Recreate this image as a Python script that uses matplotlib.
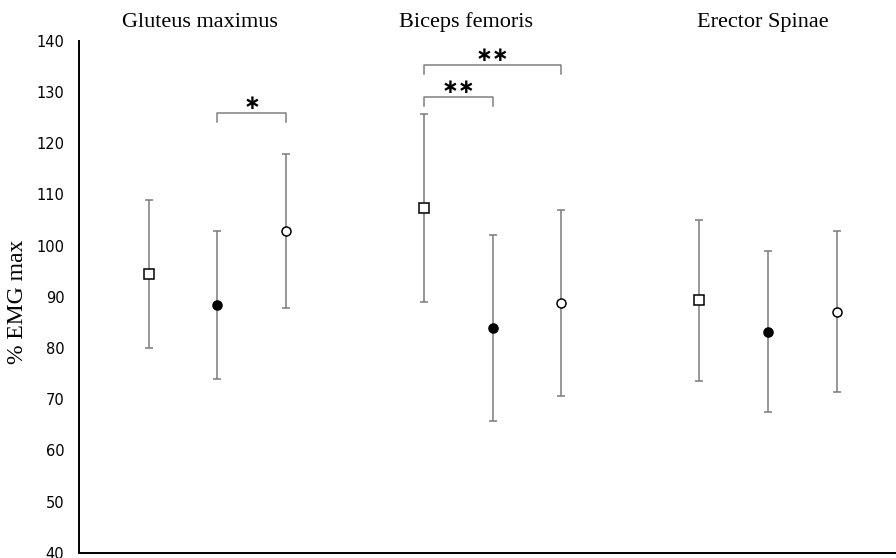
"""Mean %EMG max with SD error bars for three muscles and three conditions."""

import matplotlib.pyplot as plt
import numpy as np

# Data
muscles = ['Gluteus maximus', 'Biceps femoris', 'Erector Spinae']
cond_a = [94.4, 107.3, 89.3]   # open squares
cond_a_sd = [14.4, 18.3, 15.7]
cond_b = [88.4, 83.9, 83.2]    # filled circles
cond_b_sd = [14.4, 18.2, 15.8]
cond_c = [102.8, 88.8, 87.1]   # open circles
cond_c_sd = [15.0, 18.1, 15.7]

# Significance brackets: (muscle index, from cond, to cond, bracket height, label)
sig = [(0, 1, 2, 125.9, '*'),
       (1, 0, 1, 129.1, '**'),
       (1, 0, 2, 135.3, '**')]

# Constants
offset = 0.25
err_color = '#7a7a7a'

fig = plt.figure(figsize=(8.96, 5.58), dpi=100)
ax = fig.add_axes([0.088, 0.0095, 0.912, 0.9175])

centers = np.arange(1, len(muscles) + 1)
series = [(cond_a, cond_a_sd, 's', 'white'),
          (cond_b, cond_b_sd, 'o', 'black'),
          (cond_c, cond_c_sd, 'o', 'white')]
for i, (vals, sds, marker, face) in enumerate(series):
    x = centers + (i - 1) * offset
    ax.errorbar(x, vals, yerr=sds, fmt='none', ecolor=err_color,
                elinewidth=1.1, capsize=3, capthick=1.1, zorder=2)
    ax.plot(x, vals, linestyle='none', marker=marker, markersize=6.5 if marker == 'o' else 6.5,
            markerfacecolor=face, markeredgecolor='black', markeredgewidth=1.1, zorder=3)

# Brackets with asterisks
for m, a, b, h, label in sig:
    x0 = centers[m] + (a - 1) * offset
    x1 = centers[m] + (b - 1) * offset
    ax.plot([x0, x0, x1, x1], [h - 1.8, h, h, h - 1.8], color='#808080',
            linewidth=1.1, clip_on=False)
    ax.text((x0 + x1) / 2, h - 0.1, label.replace('*', '\u2217'), ha='center',
            va='bottom', fontsize=14.5, fontweight='bold', family='DejaVu Sans')

# Muscle titles above each group
title_x = [0.938, 1.904, 2.98]
for tx, name in zip(title_x, muscles):
    ax.text(tx, 143.6, name, ha='center', va='center', fontsize=16,
            family='Liberation Serif', clip_on=False)

ax.set_xlim(0.497, 3.465)
ax.set_ylim(40, 140)
ax.set_yticks(np.arange(40, 141, 10))
ax.set_xticks([])
ax.tick_params(axis='y', length=0, pad=10.5, labelsize=10.5)
ax.set_ylabel('% EMG max', family='Liberation Serif', fontsize=17)
ax.yaxis.set_label_coords(-0.062, 0.49)
for side in ['top', 'right']:
    ax.spines[side].set_visible(False)
for side in ['left', 'bottom']:
    ax.spines[side].set_linewidth(1.4)

fig.savefig('out.png', dpi=100)
